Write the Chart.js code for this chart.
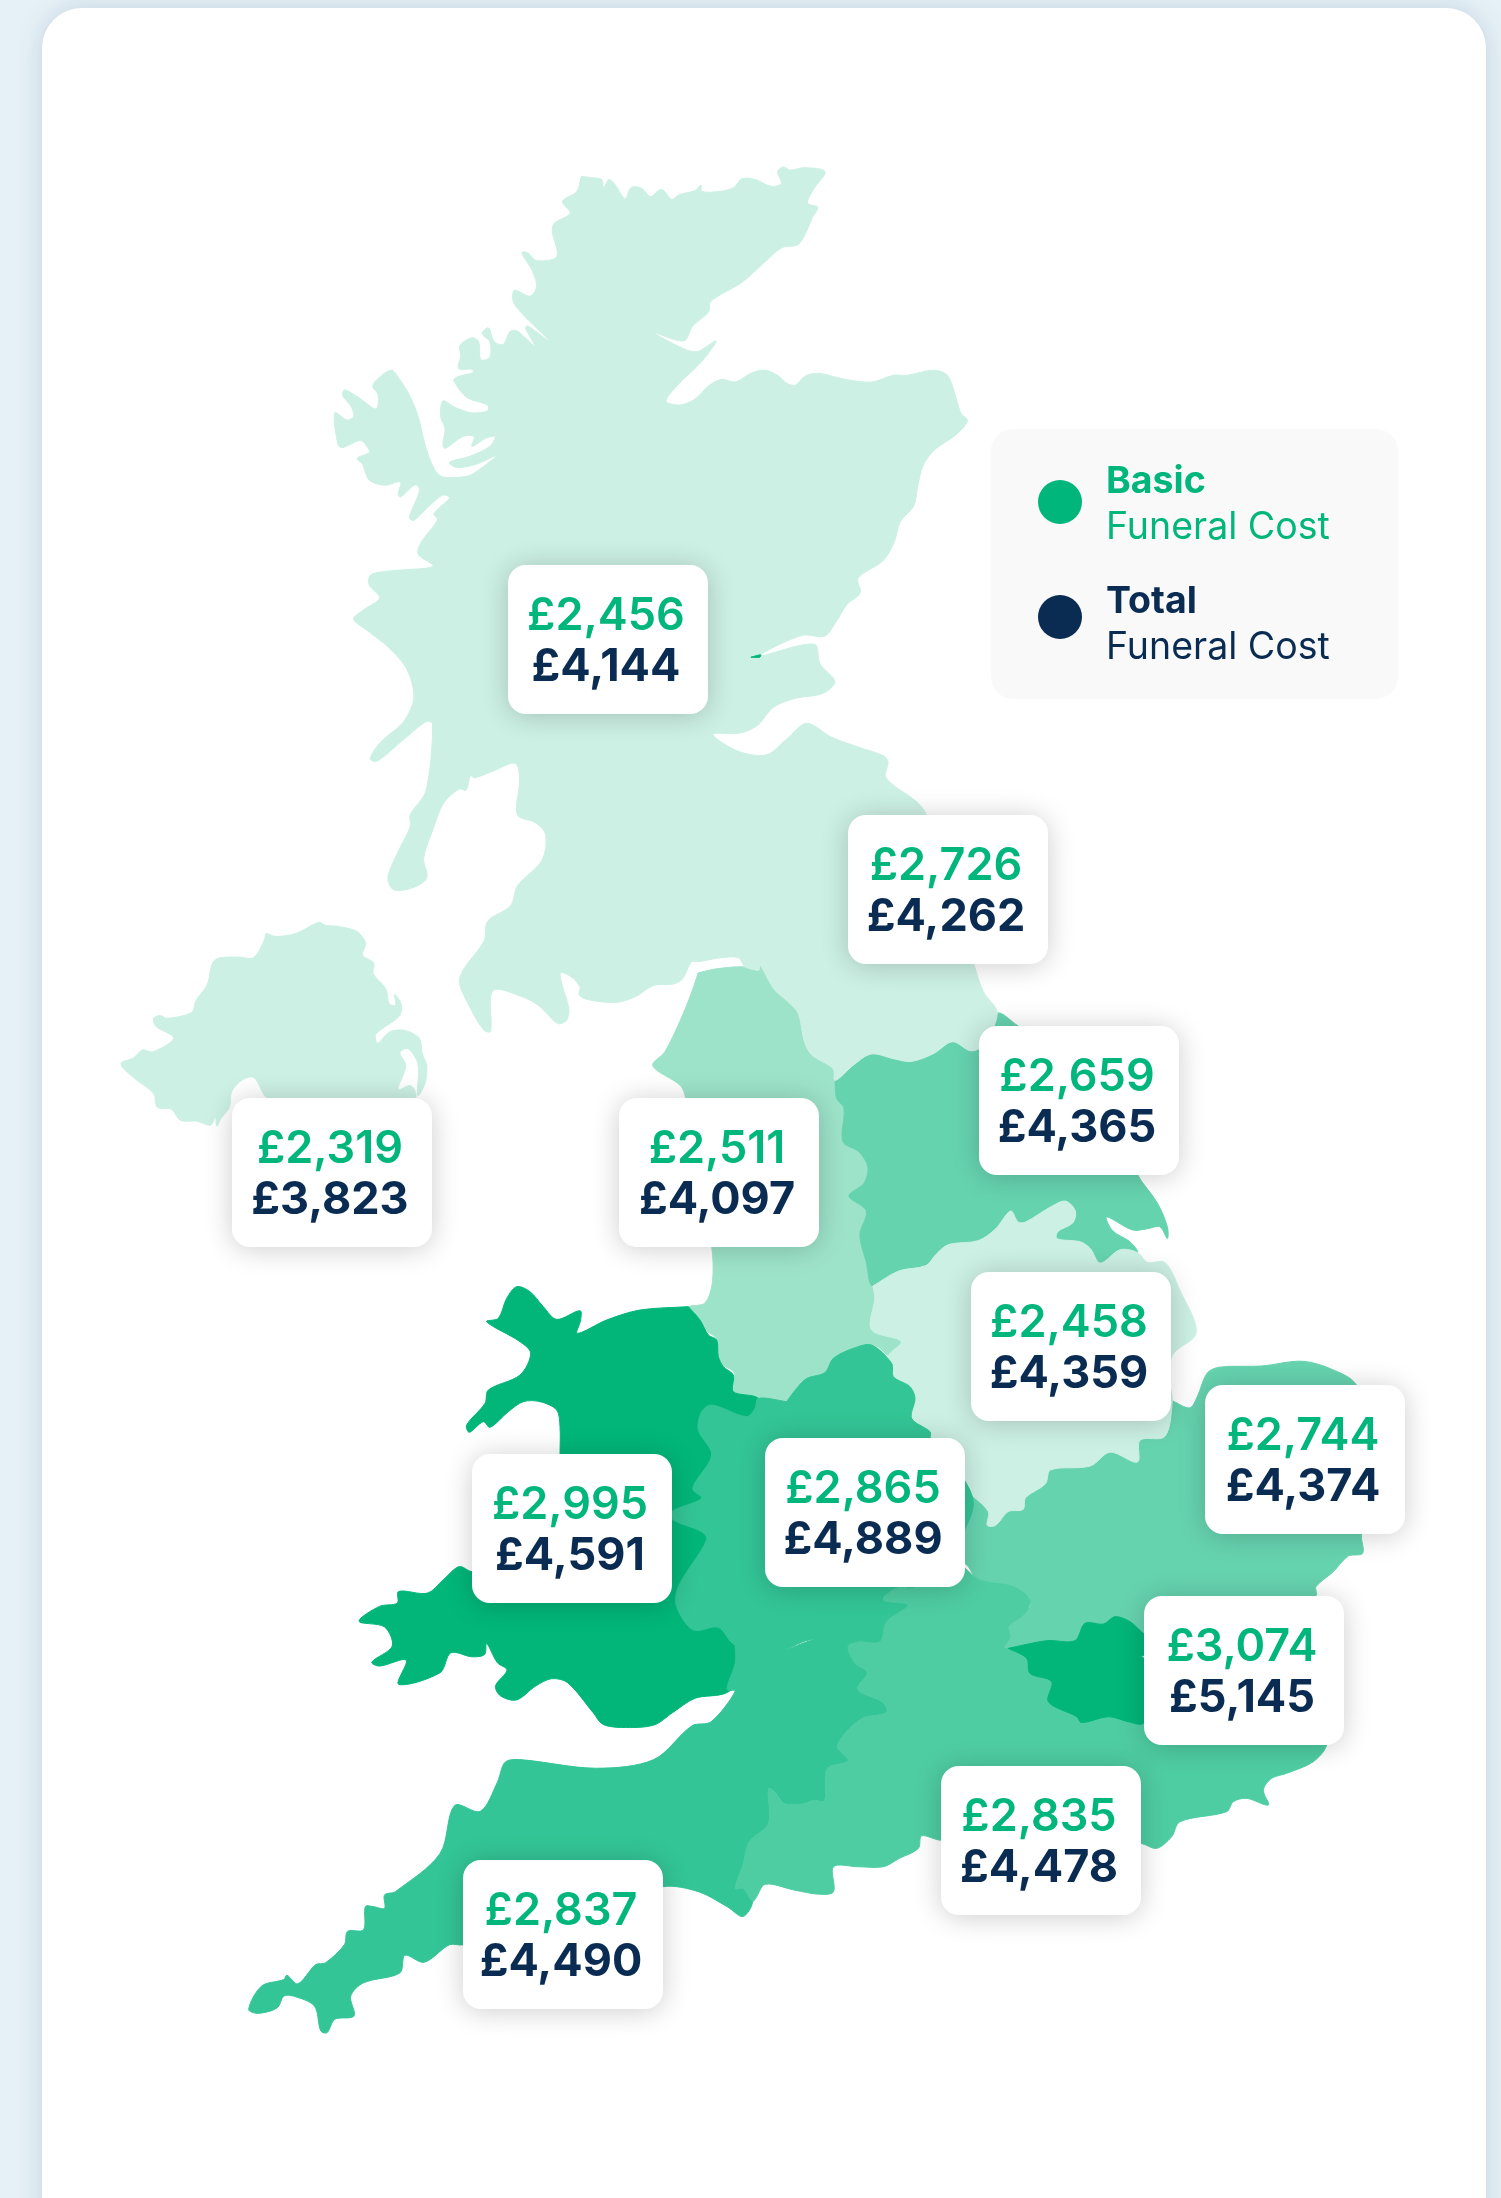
<!DOCTYPE html>
<html><head><meta charset="utf-8"><title>UK funeral costs by region</title>
<style>
html,body{margin:0;padding:0;background:#e6f1f7;width:1501px;height:2198px;overflow:hidden}
#card{position:absolute;left:42px;top:8px;width:1444px;height:2300px;background:#fff;border-radius:40px;box-shadow:0 0 28px rgba(10,44,82,.14)}
#wrap{position:absolute;left:0;top:0;width:1501px;height:2198px}
</style>
<script src="https://cdn.jsdelivr.net/npm/chart.js@4"></script>
</head><body><div id="card"></div><div id="wrap"><canvas id="c" width="1501" height="2198"></canvas></div>
<script>
// ---- values ----
const regions=["Scotland","North East","Yorkshire and the Humber","Northern Ireland","North West","East Midlands","East of England","Wales","West Midlands","London","South East","South West"];
const basicCost=[2456,2726,2659,2319,2511,2458,2744,2995,2865,3074,2835,2837];
const totalCost=[4144,4262,4365,3823,4097,4359,4374,4591,4889,5145,4478,4490];
const tagLeft=[508,848,979,232,619,971,1205,472,765,1144,941,463];
const tagTop=[565,815,1026,1098,1098,1272,1385,1454,1438,1596,1766,1860];
const legendHeads=["Basic","Total"];
const legendSub="Funeral Cost";
const GREEN="#00b67a",NAVY="#0a2c52";

// ---- outlines (crop origin + scale turned into map pixels) ----
const A=[300,140,2.24,2.529],B=[100,700,2.24,2.529],C=[640,950,2.01,2.529],D=[220,1550,1.568,3.015],W=[340,1270,3,3],M=[640,1340,3,3],K=[980,1450,3,3];
const seg=(c,a)=>{const o=[];for(let i=0;i<a.length;i+=2)o.push({x:c[0]+a[i]/c[2],y:c[1]+a[i+1]/c[3]});return o;};

const outlineBritainNorth=[
 ...seg(A,[630,92,660,96,676,100,680,120,692,100,705,112,728,148,742,120,765,122,785,143,805,126,815,128,832,150,850,138,885,128,898,114,900,130,940,130,972,120,990,98,1020,100,1055,117,1078,110,1070,80,1082,68,1098,76,1130,70,1176,80,1150,125,1137,160,1160,170,1148,195,1135,230,1115,265,1080,272,1040,310,990,360,920,408,915,435,880,470,860,508,795,488,860,528,890,535,932,508,900,560,850,615,820,660,850,670,885,655,915,622,945,605,975,612,1010,590,1040,582,1070,595,1090,615,1110,620,1130,598,1160,590,1220,605,1280,612,1330,595,1360,595,1420,582,1450,595,1465,635,1480,690,1495,710,1470,745,1420,785,1395,825,1383,880,1375,925,1345,965,1330,1020,1305,1065,1250,1108,1255,1145,1225,1175,1200,1220,1175,1255,1130,1252,1075,1275,1030,1305,1152,1275,1165,1325,1198,1370,1170,1400,1110,1412,1060,1435,1025,1480,985,1500,925,1503,980,1545,1045,1555,1090,1515,1135,1475,1190,1510,1250,1535,1308,1558]),
 ...[{x:888,y:762},{x:886,y:778},{x:925,y:812}],
 ...seg(C,[672,40,690,105,718,160,690,240,665,255,628,232,590,262,545,282,510,275,465,263,430,290,392,330,388,300,345,265,330,230,318,160,295,128,270,100,240,35]),
 ...seg(B,[1476,682,1445,675,1430,652,1390,652,1340,662,1325,662,1305,705,1285,718,1240,722,1200,750,1155,765,1090,757,1073,745,1075,725,1055,700,1032,690,1035,720,1050,780,1045,810,1025,818,985,775,945,750,880,735,875,838,860,835,830,780,805,715,815,680,860,610,868,560,920,520,935,470,990,405,998,340,975,310,935,290,940,200,930,160,880,180,838,197,830,190,820,228,805,225,770,260,745,330,725,400,732,450,700,475,658,480,645,450,665,390,695,320,695,290,730,230,745,60,730,55,680,100,620,155,605,148,630,105,680,55]),
 ...seg(A,[255,1410,240,1340,200,1285,150,1240,120,1212,140,1190,178,1158,155,1125,158,1100,200,1090,290,1082,298,1075,265,1048,270,1020,308,960,300,945,335,905,320,898,290,925,255,962,245,955,268,885,258,872,225,903,220,895,225,865,190,873,155,860,140,820,128,805,155,790,150,775,135,760,95,778,85,770,78,690,105,708,120,700,115,675,95,645,100,632,130,650,170,680,175,645,163,622,180,598,205,582,220,600,245,645,265,700,280,770,300,830,320,852,375,850,400,835,440,798,395,820,350,828,335,815,380,800,425,775,437,750,415,755,385,775,390,750,365,750,325,780,320,770,325,730,315,700,320,660,345,675,385,690,420,685,420,670,375,652,345,610,350,600,388,588,385,580,355,578,360,545,358,520,385,500,400,510,405,555,425,550,425,510,408,490,422,475,435,510,455,517,470,485,485,482,525,520,505,475,510,470,558,508,480,415,480,380,515,395,530,370,520,330,497,285,510,285,530,305,575,295,565,230,570,210,605,185,588,155,620,130])
];
const outlineForthSpeck=seg(A,[1010,1308,1032,1302,1030,1308]);
const outlineNorthernIreland=seg(B,[372,590,395,598,440,590,490,562,505,570,530,572,575,585,595,615,588,645,613,665,612,692,640,730,648,768,662,772,660,745,675,770,670,800,618,845,622,868,648,840,680,835,715,855,722,895,732,925,728,970,712,1000,712,920,690,882,672,892,685,925,668,985,695,975,708,1000,690,1040,420,1040,372,1005,345,955,320,960,295,990,290,1030,270,1060,262,1078,258,1055,248,1075,215,1065,180,1063,160,1035,128,1030,120,995,75,955,47,920,75,905,95,885,118,890,165,855,125,825,120,805,135,798,150,805,205,790,215,760,240,720,257,658,310,650,343,652,365,615]);
const outlineNorthWest=[
 ...seg(B,[1340,690,1380,680,1440,675,1476,685,1480,665]),
 ...seg(C,[270,100,295,128,318,160,330,230,345,265,388,300,392,330,395,375,410,400,408,485,440,510,458,550,450,590,420,622,455,660,442,720,455,790,468,850,472,880,465,960,525,990,500,1025,480,1005,462,998,395,1025,385,1065,330,1085,295,1145,238,1132,185,1115,190,1070,158,1040,155,985,130,960,95,905]),
 ...seg(B,[1355,1525,1372,1470,1370,1380,1340,1200,1312,1008,1300,975,1238,925,1265,890,1300,810,1325,740])
];
const outlineYorkshire=seg(C,[392,330,430,290,465,263,510,275,545,282,590,262,628,232,665,255,690,240,718,160,760,192,900,300,1000,568,1040,640,1060,700,1060,730,1045,700,1020,705,990,708,938,675,950,710,985,738,1000,765,965,758,925,792,905,755,885,738,838,730,840,712,870,690,875,660,855,635,825,650,775,688,760,688,745,660,715,705,680,735,620,745,595,770,575,798,520,812,468,850,455,790,442,720,455,660,420,622,450,590,458,550,440,510,408,485,410,400,395,375]);
const outlineEastMidlands=seg(C,[468,850,520,812,575,798,595,770,620,745,680,735,715,705,745,660,760,688,775,688,825,650,855,635,875,660,870,690,840,712,838,730,885,738,905,755,925,792,965,758,1000,765,1020,790,1055,790,1085,860,1118,968,1070,1025,1066,1100,1070,1140,1055,1230,1005,1240,1000,1295,945,1270,905,1305,825,1315,815,1350,775,1385,770,1415,740,1420,715,1455,698,1455,700,1420,660,1370,650,1350,640,1300,585,1235,580,1215,548,1190,550,1120,535,1098,510,1095,505,1050,500,1025,525,990,465,960,472,880]);
const outlineEast=[
 ...seg(C,[1070,1140,1105,1158,1120,1130,1140,1070,1165,1055,1250,1052,1330,1040,1390,1060,1440,1100,1500,1300]),
 ...seg(K,[1145,250,1148,310,1105,318,1060,365,1008,410,1008,437,800,560,495,590,445,630,300,640,75,595]),
 ...seg(M,[1095,925,1105,860,1170,800,1165,770,1100,740,1010,715,985,680,950,640,975,440]),
 ...seg(C,[800,1200])
];
const outlineWales=[
 ...seg(W,[1045,110,1080,150,1105,195,1130,210,1135,260,1150,290,1180,315,1180,365,1255,385,1260,440,1200,500,1170,600,1180,720,1170,860,1150,1000,1190,1060,1240,1120,1230,1200,1160,1268]),
 ...seg(D,[745,447,710,490,680,528,630,535,600,525,585,490,545,400,520,388,495,410,465,452,440,440,432,410,450,362,435,340,418,282,415,315,395,322,362,310,345,370,280,405,292,332,250,350,238,338,270,290,258,232,218,215,250,170,278,160,280,125,325,130,350,90,375,50,395,65]),
 ...seg(W,[660,900,660,555,660,470,650,420,600,395,550,395,505,425,450,472,430,455,388,487,380,465,435,400,445,360,540,315,572,250,540,215,440,155,475,145,500,85,530,50,570,65,610,110,650,148,720,122,722,150,712,190,800,150,900,120])
];
const outlineWestMidlands=seg(M,[440,185,470,145,500,115,555,98,580,55,640,25,695,15,755,70,760,110,810,140,825,175,815,235,870,275,872,295,960,400,1000,490,960,600,900,740,820,745,770,745,730,780,805,795,760,860,720,930,660,970,605,975,560,960,520,900,420,932,380,915,285,915,235,862,160,870,110,800,115,740,200,600,185,575,100,540,95,515,185,475,158,445,215,345,175,270,185,215,215,195,320,230,345,205,355,175]);
const outlineSouthWest=[
 ...seg(M,[285,915,380,915,420,932,520,900,575,900,590,940,605,945]),
 ...seg(D,[995,340,1015,370,1000,420,1040,460,1045,490,1005,510,968,590,985,635,952,660,948,755,930,755,915,765,885,765,870,730,860,720,860,825,830,880,820,950,808,1020,820,1020,835,1060,820,1105,795,1075,750,1030,695,1015,500,1100,382,1190,360,1190,320,1243,290,1222,282,1275,225,1305,205,1345,210,1405,180,1415,168,1455,158,1450,148,1375,115,1345,100,1345,90,1380,60,1397,45,1385,65,1315,100,1295,105,1282,122,1308,150,1250,165,1245,195,1190,200,1150,225,1145,228,1075,240,1075,258,1080,258,1040,275,1030,345,915,368,770,408,788,435,700,447,640,470,632,590,658,680,632,740,530,770,518,808,425,795,420,808,340])
];
const outlineSouthEast=[
 ...seg(M,[970,680]),
 ...seg(K,[0,390,100,410,150,450,135,490,85,530,90,560,75,595,300,600,490,622,1040,800,1040,885,1000,935,920,970,875,985,850,1020,865,1065,800,1045,760,1055,740,1085,600,1115,575,1160,530,1195,480,1180]),
 ...seg(D,[1130,875,1100,862,1095,900,1065,930,1040,955,1000,955,962,955,962,1030,940,1038,900,1025,855,1008,840,1050,835,1060,820,1020,808,1020,820,950,830,880,860,825,860,720,870,730,885,765,915,765,930,755,948,755,952,660,985,635,968,590,1005,510,1045,490,1040,460,1000,420,1015,370,995,340,985,290,1005,275]),
 ...seg(M,[660,905,720,905,740,845,805,795,730,780,770,745,820,745,900,700])
];
const outlineLondon=seg(K,[85,595,200,572,285,572,315,520,370,522,405,500,450,515,495,555,560,600,495,616,445,630,490,625,560,720,490,820,445,815,385,800,305,818,290,800,205,755,215,695,150,670,140,625]);

const mapLayers=[
 [outlineEast,"#66d3af"],[outlineNorthWest,"#9de3ca"],[outlineWales,"#02b679"],[outlineYorkshire,"#66d3af"],
 [outlineBritainNorth,"#ccf0e4"],[outlineForthSpeck,"#02b679"],[outlineNorthernIreland,"#ccf0e4"],[outlineEastMidlands,"#ccf0e4"],
 [outlineWestMidlands,"#33c595"],[outlineSouthWest,"#33c595"],[outlineSouthEast,"#4fcda2"],[outlineLondon,"#02b679"]
];
const datasets=mapLayers.map(([pts,col],i)=>({
  label:"region "+i,data:[...pts,pts[0]],showLine:true,fill:'shape',backgroundColor:col,borderColor:col,borderWidth:1,
  pointRadius:0,tension:.32,order:mapLayers.length-i,clip:false
}));

const font=(w,s)=>`${w} ${s}px Inter, sans-serif`;
const rr=(ctx,x,y,w,h,r)=>{ctx.beginPath();ctx.roundRect(x,y,w,h,r);};
const money=v=>"£"+v.toLocaleString("en-GB");

const tagsAndLegend={id:'tagsAndLegend',afterDatasetsDraw(chart){
  const {ctx,scales:{x,y}}=chart;
  ctx.save();
  // legend panel
  const lx=x.getPixelForValue(991),ly=y.getPixelForValue(429);
  ctx.fillStyle="#f9f9f9";rr(ctx,lx,ly,407,270,22);ctx.fill();
  [GREEN,NAVY].forEach((col,i)=>{
    ctx.fillStyle=col;ctx.beginPath();ctx.arc(lx+69,ly+73+i*115,22,0,Math.PI*2);ctx.fill();
    ctx.textAlign="left";ctx.textBaseline="alphabetic";
    ctx.font=font(700,37.5);ctx.fillText(legendHeads[i],lx+115,ly+64+i*120);
    ctx.font=font(400,37.5);ctx.fillText(legendSub,lx+115,ly+110+i*120);
  });
  // value tags
  regions.forEach((r,i)=>{
    const px=x.getPixelForValue(tagLeft[i]),py=y.getPixelForValue(tagTop[i]);
    ctx.save();
    ctx.shadowColor="rgba(0,0,0,.2)";ctx.shadowBlur=28;ctx.shadowOffsetY=2;
    ctx.fillStyle="#fff";rr(ctx,px,py,200,149,18);ctx.fill();
    ctx.restore();
    ctx.textAlign="center";ctx.textBaseline="alphabetic";
    ctx.fillStyle=GREEN;ctx.font=font(600,45);ctx.fillText(money(basicCost[i]),px+98,py+65);
    ctx.fillStyle=NAVY;ctx.font=font(700,45);ctx.fillText(money(totalCost[i]),px+98,py+116);
  });
  ctx.restore();
}};

new Chart(document.getElementById('c'),{
  type:'scatter',data:{datasets},plugins:[tagsAndLegend],
  options:{responsive:false,animation:false,events:[],
    layout:{padding:0},
    plugins:{legend:{display:false},tooltip:{enabled:false},title:{display:false}},
    scales:{x:{type:'linear',min:0,max:1501,display:false},y:{type:'linear',min:0,max:2198,reverse:true,display:false}}
  }
});
</script></body></html>
